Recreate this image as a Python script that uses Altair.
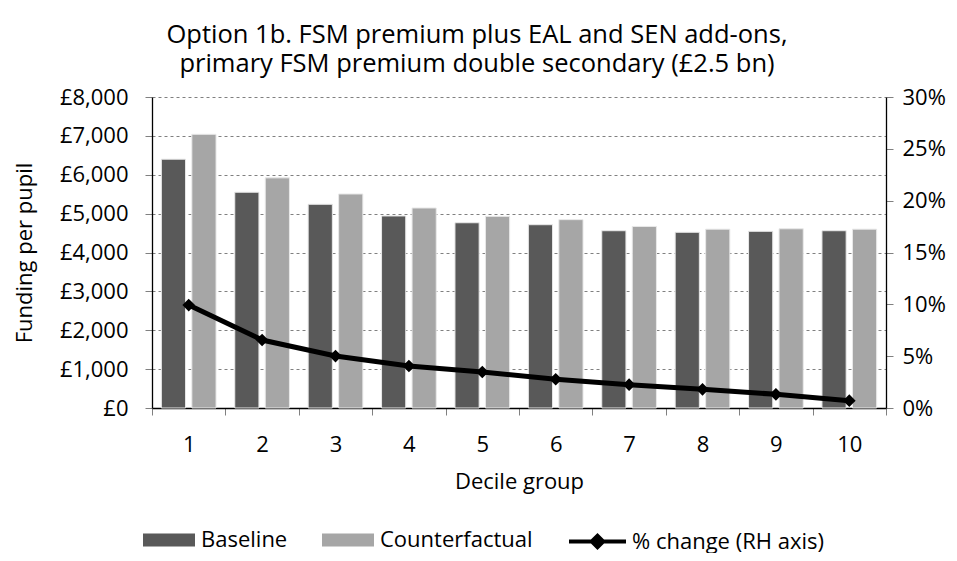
import altair as alt
import pandas as pd

deciles = ["1", "2", "3", "4", "5", "6", "7", "8", "9", "10"]
baseline = [6400, 5550, 5240, 4940, 4765, 4715, 4560, 4520, 4545, 4560]
counterfactual = [7040, 5920, 5505, 5145, 4930, 4845, 4670, 4600, 4610, 4600]
pct_change = [0.0993, 0.0656, 0.0501, 0.0405, 0.0347, 0.0277, 0.0225, 0.0180, 0.0132, 0.0071]

series_names = ["Baseline", "Counterfactual"]
line_name = "% change (RH axis)"
title_lines = ["Option 1b. FSM premium plus EAL and SEN add-ons,",
               "primary FSM premium double secondary (£2.5 bn)"]

FONT = "Open Sans"
FS = 22

rows = []
for d, b, c in zip(deciles, baseline, counterfactual):
    rows.append({"decile": d, "series": series_names[0], "value": b})
    rows.append({"decile": d, "series": series_names[1], "value": c})
bars_df = pd.DataFrame(rows)
line_df = pd.DataFrame({"decile": deciles, "pct": pct_change, "s": [line_name] * len(deciles)})

x_enc = alt.X("decile:N", sort=deciles, title="Decile group",
              scale=alt.Scale(paddingInner=0, paddingOuter=0),
              axis=alt.Axis(labelAngle=0, tickBand="extent", tickSize=7, tickColor="#808080",
                            domainColor="black", labelPadding=19, titlePadding=16))

bars = alt.Chart(bars_df).mark_bar(stroke="#e8e8e8", strokeWidth=1).encode(
    x=x_enc,
    xOffset=alt.XOffset("series:N", sort=series_names,
                        scale=alt.Scale(paddingInner=0.207, paddingOuter=0.307)),
    y=alt.Y("value:Q", title="Funding per pupil",
            scale=alt.Scale(domain=[0, 8000], nice=False),
            axis=alt.Axis(values=list(range(0, 8001, 1000)),
                          labelExpr="'£' + format(datum.value, ',')",
                          grid=True, gridDash=[3, 3], gridColor="#808080",
                          tickSize=7, tickColor="#808080", domainColor="black",
                          labelPadding=17, titlePadding=23)),
    fill=alt.Fill("series:N", sort=series_names,
                  scale=alt.Scale(domain=series_names, range=["#595959", "#a6a6a6"]),
                  legend=alt.Legend(title=None, orient="none", direction="horizontal",
                                    legendX=-9, legendY=417,
                                    symbolType="M-1,-0.25H1V0.25H-1Z", symbolSize=2704,
                                    symbolStrokeWidth=0, labelOffset=6, columnPadding=34,
                                    labelLimit=300,
                                    labelFontSize=FS, labelFont=FONT, labelColor="black")),
)

y2 = alt.Y("pct:Q", title=None,
           scale=alt.Scale(domain=[0, 0.30], nice=False),
           axis=alt.Axis(orient="right", values=[0, 0.05, 0.10, 0.15, 0.20, 0.25, 0.30],
                         format=".0%", grid=False, tickSize=7, tickColor="#808080",
                         domainColor="black", labelPadding=9))

line = alt.Chart(line_df).mark_line(strokeWidth=5).encode(
    x=alt.X("decile:N", sort=deciles),
    y=y2,
    stroke=alt.Stroke("s:N", scale=alt.Scale(domain=[line_name], range=["black"]),
                      legend=alt.Legend(title=None, orient="none", direction="horizontal",
                                        legendX=415, legendY=414,
                                        symbolType="M-1,0H1M-0.2,0L0,-0.2L0.2,0L0,0.2ZM-0.1,0L0,-0.1L0.1,0L0,0.1Z",
                                        symbolSize=3249, symbolStrokeWidth=4,
                                        labelOffset=4, labelLimit=300,
                                        labelFontSize=FS, labelFont=FONT, labelColor="black")),
)
points = alt.Chart(line_df).mark_point(shape="diamond", filled=True, size=160, opacity=1,
                                       color="black").encode(
    x=alt.X("decile:N", sort=deciles),
    y=alt.Y("pct:Q", scale=alt.Scale(domain=[0, 0.30], nice=False)),
)

chart = alt.layer(bars, alt.layer(line, points)).resolve_scale(
    y="independent", fill="independent", stroke="independent"
).properties(
    width=734, height=311,
    title=alt.TitleParams(text=title_lines, fontSize=25.5, font=FONT, fontWeight="normal",
                          anchor="middle", frame="group", dx=-42, offset=9,
                          lineHeight=29, color="black"),
    autosize=alt.AutoSizeParams(type="none"),
    padding={"left": 144, "top": 89, "right": 63, "bottom": 145},
).configure_view(strokeWidth=0).configure_axis(
    labelFont=FONT, labelFontSize=FS, labelColor="black",
    titleFont=FONT, titleFontSize=FS, titleColor="black", titleFontWeight="normal",
    domainWidth=1.3,
)

chart.save("out.html", embed_options={"renderer": "svg", "actions": False})
